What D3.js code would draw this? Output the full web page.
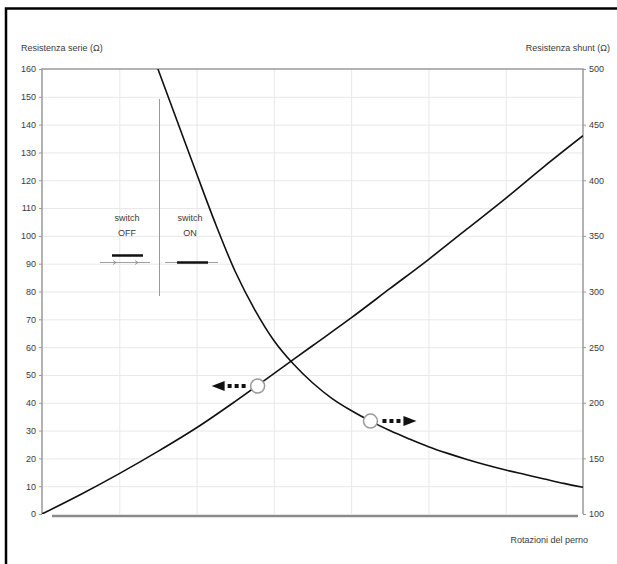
<!DOCTYPE html>
<html>
<head>
<meta charset="utf-8">
<script src="https://cdn.jsdelivr.net/npm/d3@7"></script>
<style>
  body { margin: 0; background: #fff; }
  text { font-family: "Liberation Sans", Arial, sans-serif; fill: #3a3a3a; }
</style>
</head>
<body>
<svg width="617" height="564"></svg>
<script>
// rotations of the pin (x), series resistance on the left axis
const rotations = [0, 0.5, 1, 1.5, 2, 2.5, 3, 3.5, 4, 4.5, 5, 5.5, 6, 6.5, 7];
const serieOhm = [0, 7, 14.5, 22.5, 31, 40.5, 50.5, 60.5, 70.5, 81, 91.5, 102.5, 113.5, 125, 136];

// shunt resistance on the right axis
const shuntRot = [1.5, 1.75, 2, 2.25, 2.5, 2.75, 3, 3.25, 3.5, 3.75, 4, 4.25, 4.5, 4.75,
                  5, 5.25, 5.5, 5.75, 6, 6.25, 6.5, 6.75, 7];
const shuntOhm = [500, 453, 406, 360, 318, 284, 256, 235, 218, 204, 193, 183.5, 175, 167.5,
                  160.5, 154.5, 149, 144, 139.5, 135.5, 131.5, 127.5, 124];

const leftTicks = d3.range(0, 161, 10);
const rightTicks = d3.range(100, 501, 50);
const gridRot = [1, 2, 3, 4, 5, 6];

// open circles with the arrows
const markerRot = [2.79, 4.25];
const markerOhm = [46, 183.5];
const markerAxis = ["L", "R"];
const markerDir = [-1, 1];

const margin = {top: 69, right: 34, bottom: 50, left: 42};
const [W, H] = [617, 564];

const x = d3.scaleLinear().domain([0, 7]).range([margin.left, W - margin.right]);
const yL = d3.scaleLinear().domain([0, 160]).range([H - margin.bottom, margin.top]);
const yR = d3.scaleLinear().domain([100, 500]).range([H - margin.bottom, margin.top]);

const svg = d3.select("svg");

// outer frame (cut at right/bottom)
svg.append("path")
  .attr("d", `M6,564 V8.5 H617`)
  .attr("fill", "none").attr("stroke", "#000").attr("stroke-width", 2.5);

// grid
const grid = svg.append("g").attr("stroke", "#e8e8e8").attr("stroke-width", 1);
grid.selectAll(".h").data(leftTicks.slice(1, -1)).join("line")
  .attr("x1", x(0)).attr("x2", x(7))
  .attr("y1", d => yL(d) + 0.5).attr("y2", d => yL(d) + 0.5);
grid.selectAll(".v").data(gridRot).join("line")
  .attr("y1", yL(160)).attr("y2", yL(0))
  .attr("x1", d => x(d) + 0.5).attr("x2", d => x(d) + 0.5);

// plot frame
svg.append("path")
  .attr("d", `M${x(0)},${yL(0)} V${yL(160)} H${x(7)} V${yL(0)}`)
  .attr("fill", "none").attr("stroke", "#9a9a9a").attr("stroke-width", 1.5);
svg.append("line")
  .attr("x1", x(0) + 10).attr("x2", x(7) - 5)
  .attr("y1", yL(0) + 2).attr("y2", yL(0) + 2)
  .attr("stroke", "#8a8a8a").attr("stroke-width", 2.5);

// axes
const axL = svg.append("g")
  .attr("transform", `translate(${x(0)},0)`)
  .call(d3.axisLeft(yL).tickValues(leftTicks).tickSize(3).tickPadding(3));
const axR = svg.append("g")
  .attr("transform", `translate(${x(7)},0)`)
  .call(d3.axisRight(yR).tickValues(rightTicks).tickSize(3).tickPadding(3));
[axL, axR].forEach(a => {
  a.select(".domain").remove();
  a.selectAll(".tick line").attr("stroke", "#9a9a9a");
  a.selectAll(".tick text").style("font-size", "9px").attr("fill", "#3a3a3a")
    .style("font-family", "Liberation Sans, Arial, sans-serif");
});

// axis titles
svg.append("text").attr("x", 21).attr("y", 51).style("font-size", "9px")
  .text("Resistenza serie  (\u03A9)");
svg.append("text").attr("x", 610).attr("y", 51).attr("text-anchor", "end")
  .style("font-size", "9px").text("Resistenza shunt  (\u03A9)");
svg.append("text").attr("x", 588).attr("y", 543).attr("text-anchor", "end")
  .style("font-size", "9px").text("Rotazioni del perno");

// clip
svg.append("clipPath").attr("id", "plot").append("rect")
  .attr("x", x(0)).attr("y", yL(160)).attr("width", x(7) - x(0)).attr("height", yL(0) - yL(160));

// curves
const lineL = d3.line().x((d, i) => x(rotations[i])).y(d => yL(d)).curve(d3.curveCatmullRom);
const lineR = d3.line().x((d, i) => x(shuntRot[i])).y(d => yR(d)).curve(d3.curveCatmullRom);
const curves = svg.append("g").attr("clip-path", "url(#plot)")
  .attr("fill", "none").attr("stroke", "#111").attr("stroke-width", 1.6);
curves.append("path").attr("d", lineL(serieOhm));
curves.append("path").attr("d", lineR(shuntOhm));

// switch annotation
const sw = svg.append("g");
sw.append("line").attr("x1", 159.5).attr("x2", 159.5).attr("y1", 99).attr("y2", 296)
  .attr("stroke", "#9a9a9a").attr("stroke-width", 1);
[[127, "OFF"], [190, "ON"]].forEach(([cx, lab]) => {
  sw.append("text").attr("x", cx).attr("y", 221).attr("text-anchor", "middle")
    .style("font-size", "9px").text("switch");
  sw.append("text").attr("x", cx).attr("y", 236).attr("text-anchor", "middle")
    .style("font-size", "9px").text(lab);
});
// OFF symbol
sw.append("line").attr("x1", 112).attr("x2", 143).attr("y1", 255.5).attr("y2", 255.5)
  .attr("stroke", "#111").attr("stroke-width", 2.5);
sw.append("line").attr("x1", 100).attr("x2", 150).attr("y1", 262.5).attr("y2", 262.5)
  .attr("stroke", "#888").attr("stroke-width", 0.8);
[115, 137].forEach(px => sw.append("path")
  .attr("d", `M${px - 2},260.5 L${px + 1},262.5 L${px - 2},264.5`)
  .attr("fill", "none").attr("stroke", "#888").attr("stroke-width", 0.8));
// ON symbol
sw.append("line").attr("x1", 165).attr("x2", 218).attr("y1", 262.5).attr("y2", 262.5)
  .attr("stroke", "#888").attr("stroke-width", 0.8);
sw.append("line").attr("x1", 177).attr("x2", 208).attr("y1", 262.5).attr("y2", 262.5)
  .attr("stroke", "#111").attr("stroke-width", 2.5);

// markers with arrows
markerRot.forEach((r, i) => {
  const cx = x(r);
  const cy = markerAxis[i] === "L" ? yL(markerOhm[i]) : yR(markerOhm[i]);
  const dir = markerDir[i];
  svg.append("line")
    .attr("x1", cx + dir * 12).attr("x2", cx + dir * 32)
    .attr("y1", cy).attr("y2", cy)
    .attr("stroke", "#111").attr("stroke-width", 4).attr("stroke-dasharray", "4,3");
  svg.append("path")
    .attr("d", `M${cx + dir * 33},${cy - 5} L${cx + dir * 46},${cy} L${cx + dir * 33},${cy + 5} Z`)
    .attr("fill", "#111");
  svg.append("circle").attr("cx", cx).attr("cy", cy).attr("r", 7)
    .attr("fill", "#fff").attr("stroke", "#9a9a9a").attr("stroke-width", 1.5);
});
</script>
</body>
</html>
